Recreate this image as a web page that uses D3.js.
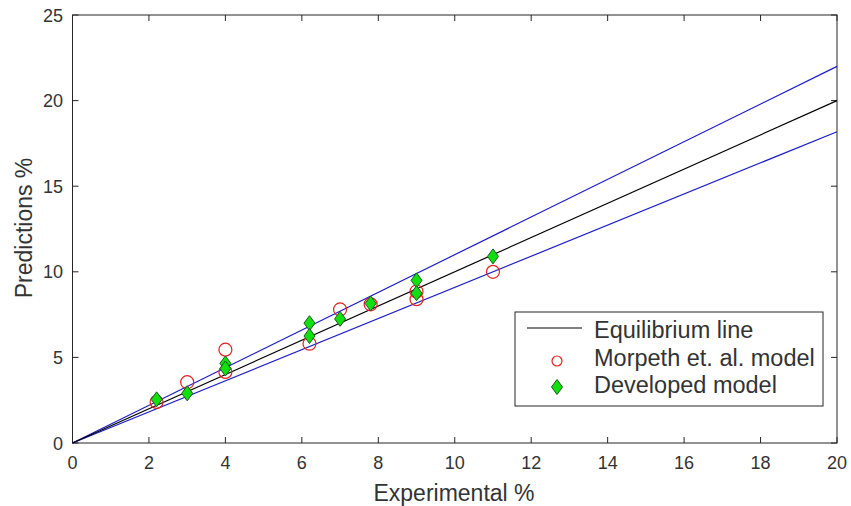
<!DOCTYPE html>
<html>
<head>
<style>
body { margin: 0; background: #fff; }
text { font-family: "Liberation Sans", Arial, sans-serif; fill: #333; }
</style>
</head>
<body>
<script src="https://d3js.org/d3.v7.min.js"></script>
<script>
// data
let xTicks = [0, 2, 4, 6, 8, 10, 12, 14, 16, 18, 20];
let yTicks = [0, 5, 10, 15, 20, 25];
let morpethX = [2.2, 3, 4, 4, 6.2, 7, 7.8, 9, 9, 11];
let morpethY = [2.4, 3.55, 5.45, 4.15, 5.8, 7.8, 8.1, 8.4, 8.85, 10.0];
let developedX = [2.2, 3, 4, 4, 6.2, 6.2, 7, 7.8, 9, 9, 11];
let developedY = [2.55, 2.9, 4.65, 4.35, 7.0, 6.25, 7.25, 8.15, 9.5, 8.75, 10.9];
let lineX = [0, 20];
let bandFactors = [1.1, 1 / 1.1];

let width = 851, height = 506;
let svg = d3.select("body").append("svg")
    .attr("width", width)
    .attr("height", height);

let x = d3.scaleLinear().domain([0, 20]).range([72.5, 837]);
let y = d3.scaleLinear().domain([0, 25]).range([443, 15]);

// axes (inward ticks, mirrored on top/right like matlab box)
let tickLen = 6;
let g = svg.append("g");
g.append("rect")
    .attr("x", x(0)).attr("y", y(25))
    .attr("width", x(20) - x(0)).attr("height", y(0) - y(25))
    .attr("fill", "none").attr("stroke", "#262626").attr("stroke-width", 1);

xTicks.forEach(t => {
    g.append("line").attr("x1", x(t)).attr("x2", x(t))
        .attr("y1", y(0)).attr("y2", y(0) - tickLen).attr("stroke", "#262626");
    g.append("line").attr("x1", x(t)).attr("x2", x(t))
        .attr("y1", y(25)).attr("y2", y(25) + tickLen).attr("stroke", "#262626");
    g.append("text").attr("x", x(t)).attr("y", 469)
        .attr("text-anchor", "middle").attr("font-size", 18).text(t);
});
yTicks.forEach(t => {
    g.append("line").attr("x1", x(0)).attr("x2", x(0) + tickLen)
        .attr("y1", y(t)).attr("y2", y(t)).attr("stroke", "#262626");
    g.append("line").attr("x1", x(20)).attr("x2", x(20) - tickLen)
        .attr("y1", y(t)).attr("y2", y(t)).attr("stroke", "#262626");
    g.append("text").attr("x", 63).attr("y", y(t) + 6.5)
        .attr("text-anchor", "end").attr("font-size", 18).text(t);
});

svg.append("text").attr("x", 454).attr("y", 501)
    .attr("text-anchor", "middle").attr("font-size", 23).text("Experimental %");
svg.append("text").attr("transform", "translate(32,228) rotate(-90)")
    .attr("text-anchor", "middle").attr("font-size", 23).text("Predictions %");

let line = d3.line().x(d => x(d[0])).y(d => y(d[1]));

// +/-10% band lines
bandFactors.forEach(f => {
    svg.append("path")
        .datum(lineX.map(v => [v, v * f]))
        .attr("d", line)
        .attr("fill", "none").attr("stroke", "#1c1cc8").attr("stroke-width", 1.2);
});
// equilibrium line
svg.append("path")
    .datum(lineX.map(v => [v, v]))
    .attr("d", line)
    .attr("fill", "none").attr("stroke", "#000").attr("stroke-width", 1.2);

let diamond = (cx, cy) => `M${cx},${cy - 7.5}L${cx + 5.5},${cy}L${cx},${cy + 7.5}L${cx - 5.5},${cy}Z`;

// morpeth circles
svg.selectAll(".morpeth")
    .data(morpethX.map((v, i) => [v, morpethY[i]]))
    .join("circle")
    .attr("class", "morpeth")
    .attr("cx", d => x(d[0])).attr("cy", d => y(d[1]))
    .attr("r", 6.5)
    .attr("fill", "none").attr("stroke", "#e02020").attr("stroke-width", 1.2);

// developed model diamonds
svg.selectAll(".developed")
    .data(developedX.map((v, i) => [v, developedY[i]]))
    .join("path")
    .attr("class", "developed")
    .attr("d", d => diamond(x(d[0]), y(d[1])))
    .attr("fill", "#10e010").attr("stroke", "#1a5a1a").attr("stroke-width", 1);

// legend
let lg = svg.append("g");
lg.append("rect").attr("x", 515).attr("y", 312).attr("width", 308).attr("height", 94)
    .attr("fill", "#fff").attr("stroke", "#262626");
lg.append("line").attr("x1", 527).attr("x2", 582).attr("y1", 328).attr("y2", 328)
    .attr("stroke", "#000").attr("stroke-width", 1.2);
lg.append("circle").attr("cx", 557).attr("cy", 361).attr("r", 5)
    .attr("fill", "none").attr("stroke", "#e02020").attr("stroke-width", 1.2);
lg.append("path").attr("d", diamond(557, 387))
    .attr("fill", "#10e010").attr("stroke", "#1a5a1a");
let legendNames = ["Equilibrium line", "Morpeth et. al. model", "Developed model"];
legendNames.forEach((n, i) => {
    lg.append("text").attr("x", 594).attr("y", 338 + i * 27.5)
        .attr("font-size", 23.5).text(n);
});
</script>
</body>
</html>
